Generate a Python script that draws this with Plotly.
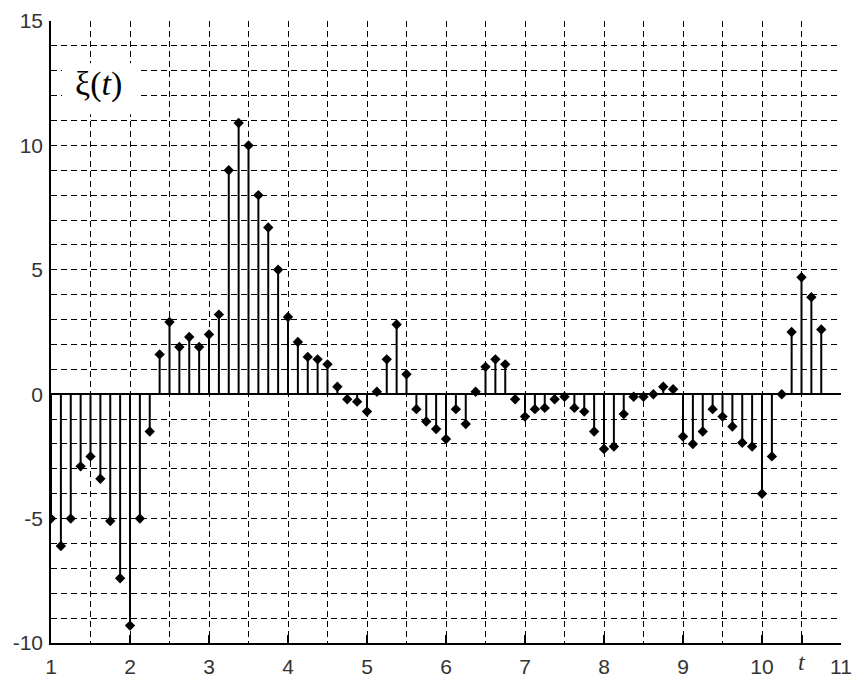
import plotly.graph_objects as go

# Sampled random process xi(t), step 0.125 starting at t = 1
t_start = 1.0
t_step = 0.125
xi_values = [
    -5.0, -6.1, -5.0, -2.9, -2.5, -3.4, -5.1, -7.4, -9.3, -5.0,
    -1.5, 1.6, 2.9, 1.9, 2.3, 1.9, 2.4, 3.2, 9.0, 10.9,
    10.0, 8.0, 6.7, 5.0, 3.1, 2.1, 1.5, 1.4, 1.2, 0.3,
    -0.2, -0.3, -0.7, 0.1, 1.4, 2.8, 0.8, -0.6, -1.1, -1.4,
    -1.8, -0.6, -1.2, 0.1, 1.1, 1.4, 1.2, -0.2, -0.9, -0.6,
    -0.55, -0.2, -0.1, -0.55, -0.7, -1.5, -2.2, -2.1, -0.8, -0.1,
    -0.1, 0.0, 0.3, 0.2, -1.7, -2.0, -1.5, -0.6, -0.9, -1.3,
    -1.95, -2.1, -4.0, -2.5, 0.0, 2.5, 4.7, 3.9, 2.6,
]
t_values = [t_start + i * t_step for i in range(len(xi_values))]

x_tick_vals = [1, 2, 3, 4, 5, 6, 7, 8, 9, 10, 10.5, 11]
x_tick_text = ["1", "2", "3", "4", "5", "6", "7", "8", "9", "10", "", "11"]
x_minor_vals = [1.5, 2.5, 3.5, 4.5, 5.5, 6.5, 7.5, 8.5, 9.5]
y_tick_vals = [-10, -5, 0, 5, 10, 15]
y_tick_text = ["-10", "-5", "0", "5", "10", "15"]
y_minor_vals = [v for v in range(-10, 16) if v % 5 != 0]

# stems: vertical segments from the zero line to each sample
stem_x, stem_y = [], []
for t, v in zip(t_values, xi_values):
    stem_x += [t, t, None]
    stem_y += [0, v, None]

fig = go.Figure()
fig.add_trace(go.Scatter(
    x=stem_x, y=stem_y, mode="lines",
    line=dict(color="black", width=2),
    hoverinfo="skip", showlegend=False,
))
fig.add_trace(go.Scatter(
    x=t_values, y=xi_values, mode="markers",
    marker=dict(symbol="diamond", size=8, color="black"),
    showlegend=False,
))

dash = "6px,4px"
grid_common = dict(
    showgrid=True, gridcolor="black", gridwidth=1, griddash=dash,
)
tick_font = dict(family="Liberation Sans", size=21, color="#333")

fig.update_xaxes(
    range=[1, 11], tickmode="array", tickvals=x_tick_vals, ticktext=x_tick_text,
    ticks="inside", ticklen=8, tickwidth=1.5, tickcolor="black",
    showline=True, linecolor="black", linewidth=1.5,
    zeroline=False, automargin=False, ticklabelstandoff=4,
    minor=dict(tickmode="array", tickvals=x_minor_vals, ticks="", **grid_common),
    tickfont=tick_font,
    **grid_common,
)
fig.update_yaxes(
    range=[-10, 15], tickmode="array", tickvals=y_tick_vals, ticktext=y_tick_text,
    ticks="", showline=True, linecolor="black", linewidth=1.5,
    zeroline=True, zerolinecolor="black", zerolinewidth=1.8,
    automargin=False, ticklabelstandoff=2,
    minor=dict(tickmode="array", tickvals=y_minor_vals, ticks="", **grid_common),
    tickfont=tick_font,
    **grid_common,
)

# white box behind the series label
fig.add_shape(
    type="rect", xref="x", yref="y", x0=1.14, x1=2.09, y0=11.25, y1=13.3,
    fillcolor="white", line=dict(width=0), layer="above",
)
fig.add_annotation(
    x=1.6, y=12.45, xref="x", yref="y", text="ξ(<i>t</i>)", showarrow=False,
    xanchor="center", yanchor="middle",
    font=dict(family="Liberation Serif", size=34, color="black"),
)
# time axis label in place of the 10.5 tick label
fig.add_annotation(
    x=10.5, y=0, xref="x", yref="paper", text="<i>t</i>", showarrow=False,
    yanchor="middle", yshift=-19,
    font=dict(family="Liberation Serif", size=24, color="#333"),
)

fig.update_layout(
    width=852, height=677,
    margin=dict(l=51, r=11, t=21, b=34),
    paper_bgcolor="white", plot_bgcolor="white",
)

fig.write_html("out.html")
